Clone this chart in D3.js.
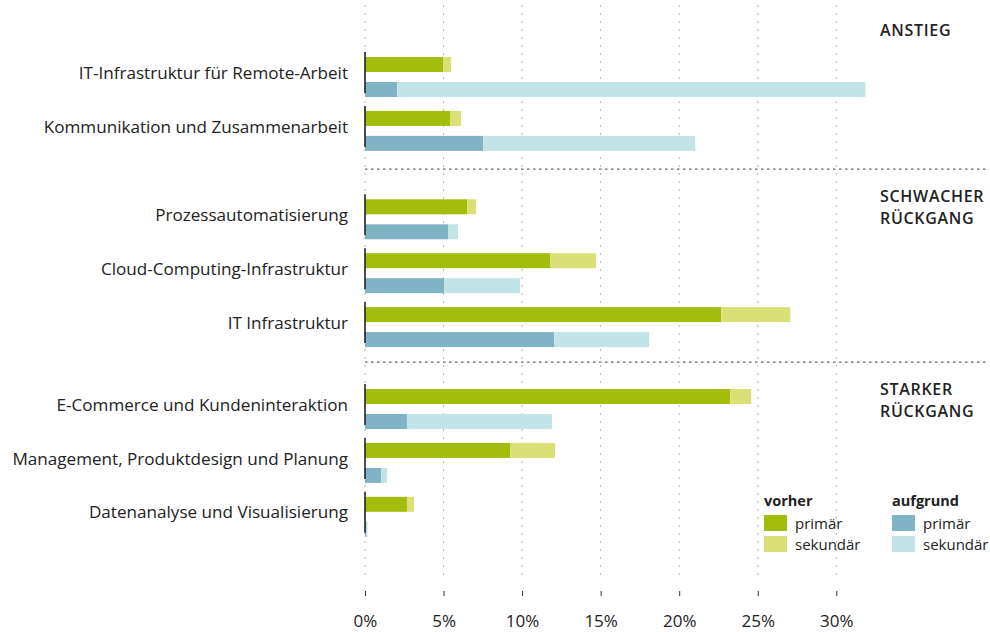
<!DOCTYPE html>
<html><head><meta charset="utf-8">
<script src="https://cdn.jsdelivr.net/npm/d3@7"></script>
<style>
body{margin:0;background:#fff;}
text{font-family:"Open Sans","Noto Sans",sans-serif;fill:#222;}
</style></head>
<body><svg id="c" width="990" height="632"></svg>
<script>
const categories = [
  "IT-Infrastruktur für Remote-Arbeit",
  "Kommunikation und Zusammenarbeit",
  "Prozessautomatisierung",
  "Cloud-Computing-Infrastruktur",
  "IT Infrastruktur",
  "E-Commerce und Kundeninteraktion",
  "Management, Produktdesign und Planung",
  "Datenanalyse und Visualisierung"
];
const categoryGroup = [0,0,1,1,1,2,2,2];
const groupLabels = [["ANSTIEG"],["SCHWACHER","RÜCKGANG"],["STARKER","RÜCKGANG"]];
const vorherPrimaer    = [4.97, 5.41, 6.50, 11.78, 22.68, 23.25, 9.24, 2.67];
const vorherSekundaer  = [0.51, 0.70, 0.57, 2.93, 4.39, 1.34, 2.86, 0.45];
const aufgrundPrimaer  = [2.04, 7.52, 5.29, 5.03, 12.04, 2.67, 1.02, 0.10];
const aufgrundSekundaer= [29.81, 13.50, 0.63, 4.84, 6.05, 9.24, 0.38, 0.05];
const tickValues = [0,5,10,15,20,25,30];
const legendTitles = ["vorher","aufgrund"];
const legendItems = ["primär","sekundär"];

const colors = {vp:"#a3bd0d", vs:"#dbe076", ap:"#80b3c4", as:"#c3e4e6"};

const svg = d3.select("#c");
const x = d3.scaleLinear().domain([0,30]).range([365, 836.3]);

// layout: extra spacing (in row units) before each group
const groupOffset = [0, 0.64, 1.16];
const slot = categories.map((c,i)=> i + groupOffset[categoryGroup[i]]);
const y = d3.scaleLinear().domain([0,1]).range([73,126.9]);
const inner = d3.scaleBand().domain(["vorher","aufgrund"]).range([-16,24]).paddingInner(0.4).paddingOuter(0);

// gridlines
svg.append("g").selectAll("line").data(tickValues).join("line")
  .attr("x1",d=>x(d)).attr("x2",d=>x(d)).attr("y1",5).attr("y2",581)
  .attr("stroke","#b5b5b5").attr("stroke-width",1).attr("stroke-dasharray","2,6");

// separators
const seps = [];
for (let i=1;i<categories.length;i++){
  if (categoryGroup[i]!==categoryGroup[i-1]) seps.push(y((slot[i]+slot[i-1])/2) - 2);
}
svg.append("g").selectAll("line").data(seps).join("line")
  .attr("x1",x(0)).attr("x2",988).attr("y1",d=>d).attr("y2",d=>d)
  .attr("stroke","#666").attr("stroke-width",1.3).attr("stroke-dasharray","2.5,3.5");

// group labels
const groupTops = [36];
seps.forEach(s=>groupTops.push(s+33));
groupLabels.forEach((lines,g)=>{
  const t = svg.append("text").attr("x",880).attr("y",groupTops[g])
    .style("font-size","16px").style("font-weight","600").style("letter-spacing","0.7px");
  lines.forEach((l,k)=>t.append("tspan").attr("x",880).attr("dy",k?22:0).text(l));
});

// rows
const rows = svg.append("g").selectAll("g").data(categories).join("g")
  .attr("transform",(d,i)=>`translate(0,${y(slot[i])})`);

rows.append("text").attr("x",348).attr("y",0).attr("dy","0.33em")
  .attr("text-anchor","end").style("font-size","17.1px").text(d=>d);

rows.each(function(d,i){
  const g = d3.select(this);
  g.append("rect").attr("x",x(0)).attr("y",inner("vorher")).attr("width",x(vorherPrimaer[i])-x(0)).attr("height",inner.bandwidth()).attr("fill",colors.vp);
  g.append("rect").attr("x",x(vorherPrimaer[i])).attr("y",inner("vorher")).attr("width",x(vorherPrimaer[i]+vorherSekundaer[i])-x(vorherPrimaer[i])).attr("height",inner.bandwidth()).attr("fill",colors.vs);
  g.append("rect").attr("x",x(0)).attr("y",inner("aufgrund")).attr("width",x(aufgrundPrimaer[i])-x(0)).attr("height",inner.bandwidth()).attr("fill",colors.ap);
  g.append("rect").attr("x",x(aufgrundPrimaer[i])).attr("y",inner("aufgrund")).attr("width",x(aufgrundPrimaer[i]+aufgrundSekundaer[i])-x(aufgrundPrimaer[i])).attr("height",inner.bandwidth()).attr("fill",colors.as);
});
rows.append("line").attr("x1",x(0)).attr("x2",x(0)).attr("y1",-21).attr("y2",20)
  .attr("stroke","#222").attr("stroke-width",1.6);

// x axis
const axis = d3.axisBottom(x).tickValues(tickValues).tickFormat(d=>d+"%").tickSize(5).tickPadding(19);
const ax = svg.append("g").attr("transform","translate(0,591)").call(axis);
ax.select(".domain").remove();
ax.selectAll(".tick line").attr("stroke","#333");
ax.selectAll(".tick text").style("font-size","17px").style("font-family",'"Open Sans","Noto Sans",sans-serif').attr("fill","#222");

// legend
const lg = svg.append("g");
const legendX = [764, 892];
const legendColors = [[colors.vp,colors.vs],[colors.ap,colors.as]];
legendTitles.forEach((t,k)=>{
  lg.append("text").attr("x",legendX[k]).attr("y",506).style("font-size","14.5px").style("font-weight","700").text(t);
  legendItems.forEach((it,j)=>{
    lg.append("rect").attr("x",legendX[k]).attr("y",515+j*21).attr("width",23).attr("height",16).attr("fill",legendColors[k][j]);
    lg.append("text").attr("x",legendX[k]+31).attr("y",529+j*21).style("font-size","15px").text(it);
  });
});
</script></body></html>
